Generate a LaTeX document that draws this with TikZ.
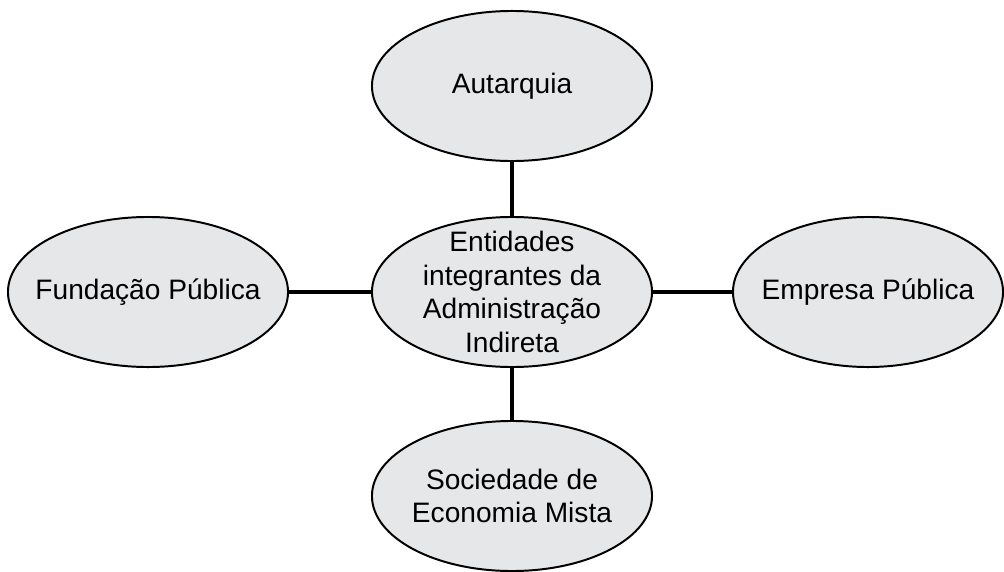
\documentclass[tikz,border=0pt]{standalone}
\usepackage{fontspec}
\setmainfont{Liberation Sans}
\usetikzlibrary{shapes.geometric}
\definecolor{cinzaclaro}{HTML}{E6E7E8}

\begin{document}
\begin{tikzpicture}[x=0.025cm, y=-0.025cm,
  entidade/.style={ellipse, draw=black, line width=1.4pt, fill=cinzaclaro,
    minimum width=7cm, minimum height=3.75cm, inner sep=-60pt, align=center,
    font=\fontsize{20}{24}\selectfont},
  ligacao/.style={line width=2.8pt, black}]
\useasboundingbox (0,0) rectangle (1004,571);
% elipses
\node[entidade] (central) at (512,292) {Entidades\\integrantes da\\Administração\\Indireta};
\node[entidade] (autarquia) at (512,86) {Autarquia};
\node[entidade] (fundacao) at (148,292) {Fundação Pública};
\node[entidade, minimum width=6.75cm] (empresa) at (868,292) {Empresa Pública};
\node[entidade] (sociedade) at (512,496) {Sociedade de\\Economia Mista};
% ligacoes
\draw[ligacao] (central) -- (autarquia);
\draw[ligacao] (central) -- (fundacao);
\draw[ligacao] (central) -- (empresa);
\draw[ligacao] (central) -- (sociedade);
\end{tikzpicture}
\end{document}
